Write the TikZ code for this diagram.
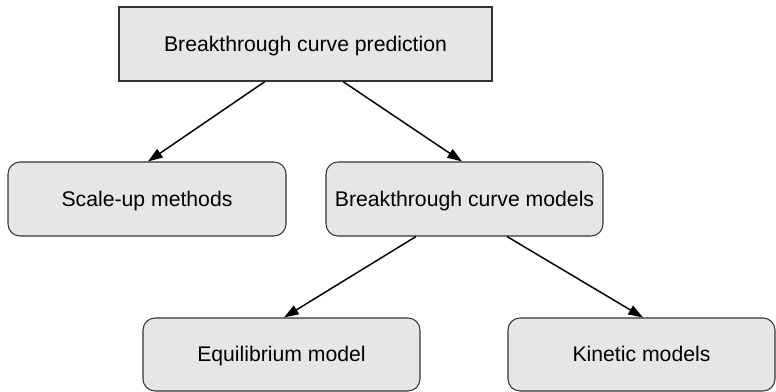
\documentclass[tikz,border=0pt]{standalone}
\usepackage{fontspec}
\setmainfont{Liberation Sans}
\usetikzlibrary{arrows.meta}
\definecolor{boxfill}{HTML}{E6E6E6}
\definecolor{boxline}{HTML}{333333}
\tikzset{
  box/.style={draw=boxline, fill=boxfill, line width=0.8pt, minimum height=55.5pt, inner sep=0pt,
    text height=14pt, text depth=3.4pt, font=\fontsize{15.9pt}{18pt}\selectfont},
  rbox/.style={box, rounded corners=9pt},
  conn/.style={line width=1.1pt, -{Triangle[length=11pt,width=7.5pt]}}
}
\begin{document}
\begin{tikzpicture}[x=0.75pt,y=-0.75pt]
\useasboundingbox (0,0) rectangle (776,392);
\node[box, minimum width=279.75pt] (top) at (305.5,44) {Breakthrough curve prediction};
\node[rbox, minimum width=208.5pt] (scale) at (147,199) {Scale-up methods};
\node[rbox, minimum width=207.75pt] (models) at (464.5,199) {Breakthrough curve models};
\node[rbox, minimum width=207.75pt, minimum height=54.75pt] (equil) at (281.5,354.5) {Equilibrium model};
\node[rbox, minimum width=200.25pt, minimum height=54.75pt] (kin) at (641.5,354.5) {Kinetic models};
\draw[conn] ([xshift=-30.4pt]top.south) -- ([xshift=0.75pt]scale.north);
\draw[conn] ([xshift=28.1pt]top.south) -- ([xshift=-1.9pt]models.north);
\draw[conn] ([xshift=-36.4pt]models.south) -- ([xshift=1.9pt]equil.north);
\draw[conn] ([xshift=31.9pt]models.south) -- ([xshift=1.1pt]kin.north);
\end{tikzpicture}
\end{document}
